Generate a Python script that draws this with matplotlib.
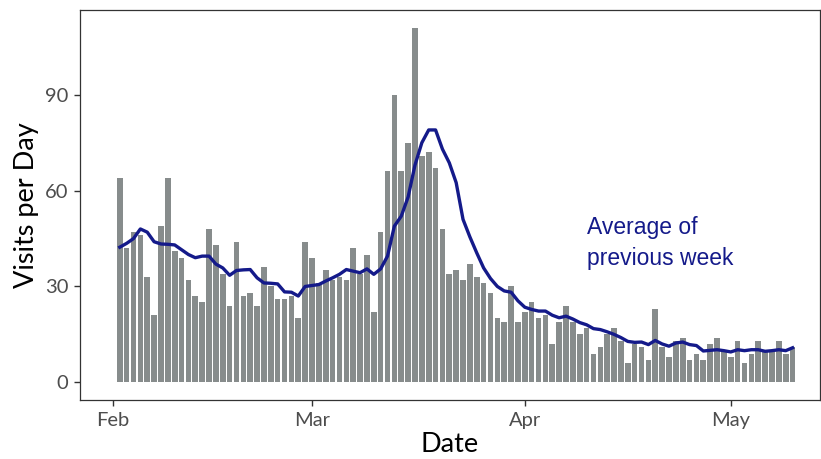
import matplotlib
matplotlib.use("Agg")
import matplotlib.pyplot as plt
import matplotlib.dates as mdates
import pandas as pd

#===============================================================================
# daily visits, 2 Feb 2020 .. 10 May 2020
start_date = "2020-02-02"

visits = [
    64, 42, 47, 46, 33, 21, 49, 64, 41, 39,
    32, 27, 25, 48, 43, 34, 24, 44, 27, 28,
    24, 36, 30, 26, 26, 27, 20, 44, 39, 31,
    35, 32, 33, 32, 42, 34, 40, 22, 47, 66,
    90, 66, 75, 111, 71, 72, 67, 48, 34, 35,
    32, 37, 33, 31, 28, 20, 19, 30, 19, 22,
    25, 20, 21, 12, 19, 24, 19, 15, 17, 9,
    11, 15, 17, 13, 6, 12, 11, 7, 23, 11,
    8, 13, 14, 7, 9, 7, 12, 14, 10, 8,
    13, 6, 9, 13, 10, 10, 13, 9, 11,
]

# average of previous week
week_avg = [
    42.3, 43.5, 45.0, 48.0, 47.0, 44.0, 43.3, 43.2, 43.0, 41.5,
    40.0, 39.0, 39.5, 39.5, 37.0, 35.8, 33.5, 35.0, 35.2, 35.3,
    32.7, 31.1, 31.0, 30.8, 28.3, 28.2, 27.0, 30.0, 30.3, 30.6,
    31.7, 32.7, 33.8, 35.3, 34.8, 34.3, 35.5, 33.8, 35.5, 39.5,
    48.9, 52.0, 58.0, 68.0, 75.0, 79.0, 79.0, 73.0, 68.7, 62.5,
    51.0, 45.5, 40.5, 35.8, 32.5, 30.0, 28.6, 28.2, 25.5, 23.5,
    22.8, 22.3, 22.3, 21.0, 20.2, 20.7, 19.8, 18.7, 18.0, 16.8,
    16.5, 15.8, 15.0, 14.0, 12.8, 12.5, 12.6, 11.8, 13.1, 12.0,
    11.3, 12.3, 12.6, 11.8, 11.5, 9.8, 10.0, 10.2, 9.9, 9.5,
    10.2, 9.9, 10.2, 10.2, 9.7, 9.9, 10.2, 9.9, 10.8,
]

y_ticks = [0, 30, 60, 90]

#===============================================================================
dates = pd.date_range(start_date, periods=len(visits), freq="D")

fig = plt.figure(figsize=(8.21, 4.59), dpi=100)
ax = fig.add_axes([0.0974, 0.1285, 0.9014, 0.8497])

ax.bar(dates, visits, width=0.82, color="#878c8c", zorder=2)
ax.plot(dates, week_avg, color="#141a8a", linewidth=2.4, zorder=3)

ax.text(pd.Timestamp("2020-04-10"), 52, "Average of\nprevious week",
        color="#141a8a", fontsize=16.5, family="Liberation Sans",
        linespacing=1.45, va="top", ha="left")

#===============================================================================
ax.set_xlim(pd.Timestamp("2020-02-01") - pd.Timedelta(days=4.8),
            pd.Timestamp("2020-02-01") + pd.Timedelta(days=103))
ax.set_ylim(-5.55, 116.55)

ax.xaxis.set_major_locator(mdates.MonthLocator())
ax.xaxis.set_major_formatter(mdates.DateFormatter("%b"))
ax.set_yticks(y_ticks)

for spine in ax.spines.values():
    spine.set_color("#333333")
    spine.set_linewidth(0.9)

ax.tick_params(axis="both", direction="out", length=4.5, width=1.0, pad=4,
               color="#333333", labelcolor="#4d4d4d", labelsize=14.5)
for label in ax.get_xticklabels() + ax.get_yticklabels():
    label.set_family("Lato")

ax.set_xlabel("Date", fontsize=19.5, family="Lato", color="black", labelpad=2.5)
ax.set_ylabel("Visits per Day", fontsize=19.5, family="Lato", color="black", labelpad=4)

fig.savefig("out.png", dpi=100)
